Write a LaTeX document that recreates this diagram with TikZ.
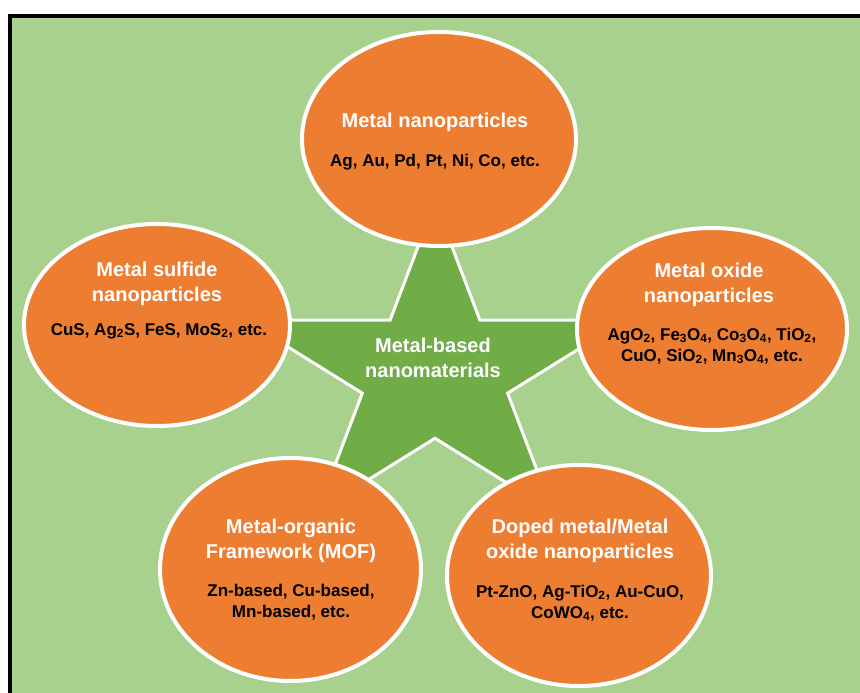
\documentclass[tikz,border=0pt]{standalone}
\usepackage{fontspec}
\setmainfont{Liberation Sans}
\usetikzlibrary{shapes.geometric}
\definecolor{bggreen}{HTML}{A9D18E}
\definecolor{stargreen}{HTML}{70AD47}
\definecolor{blobfill}{HTML}{ED7D31}
\tikzset{
  blob/.style={ellipse,fill=blobfill,draw=white,line width=4pt,inner sep=0pt},
  head/.style={text=white,font=\bfseries\fontsize{20}{25}\selectfont,align=center},
  items/.style={font=\bfseries\fontsize{17}{21}\selectfont,align=center}
}
\begin{document}
\begin{tikzpicture}[x=1pt,y=1pt]
      \clip (0,0) rectangle (860,693);
      \fill[bggreen] (10,-10) rectangle (870,677);
      \draw[line width=4pt] (10,-10)--(10,677)--(870,677);
      % star in the middle
      \filldraw[fill=stargreen,draw=white,line width=3pt,line join=miter,shift={(435,320)}]
        (90:200 and 171) \foreach \a in {162,234,306,18}{--(\a-36:76.4 and 65.3)--(\a:200 and 171)}
        --(54:76.4 and 65.3)--cycle;
      \node[head] (core) at (433,335.5) {Metal-based\\nanomaterials};
      % the five ellipses
      \node[blob,minimum width=274,minimum height=214] (metal) at (439,554) {};
      \node[blob,minimum width=266,minimum height=202] (sulfide) at (157,368) {};
      \node[blob,minimum width=270,minimum height=202] (oxide) at (712,364) {};
      \node[blob,minimum width=261,minimum height=223] (mof) at (290.5,123.5) {};
      \node[blob,minimum width=264,minimum height=221] (doped) at (579,117.5) {};
      \node[head] (metalhead) at (435,571) {Metal nanoparticles};
      \node[items] (metallist) at (435,531) {Ag, Au, Pd, Pt, Ni, Co, etc.};
      \node[head] (sulfidehead) at (157,409.5) {Metal sulfide\\nanoparticles};
      \node[items] (sulfidelist) at (159,362) {CuS, Ag\textsubscript{2}S, FeS, MoS\textsubscript{2}, etc.};
      \node[head] (oxidehead) at (709,408) {Metal oxide\\nanoparticles};
      \node[items] (oxidelist) at (712,347) {AgO\textsubscript{2}, Fe\textsubscript{3}O\textsubscript{4}, Co\textsubscript{3}O\textsubscript{4}, TiO\textsubscript{2},\\CuO, SiO\textsubscript{2}, Mn\textsubscript{3}O\textsubscript{4}, etc.};
      \node[head] (mofhead) at (291,152) {Metal-organic\\Framework (MOF)};
      \node[items] (moflist) at (291,90.5) {Zn-based, Cu-based,\\Mn-based, etc.};
      \node[head] (dopedhead) at (580,152.5) {Doped metal/Metal\\oxide nanoparticles};
      \node[items] (dopedlist) at (580,90) {Pt-ZnO, Ag-TiO\textsubscript{2}, Au-CuO,\\CoWO\textsubscript{4}, etc.};
\end{tikzpicture}
\end{document}
